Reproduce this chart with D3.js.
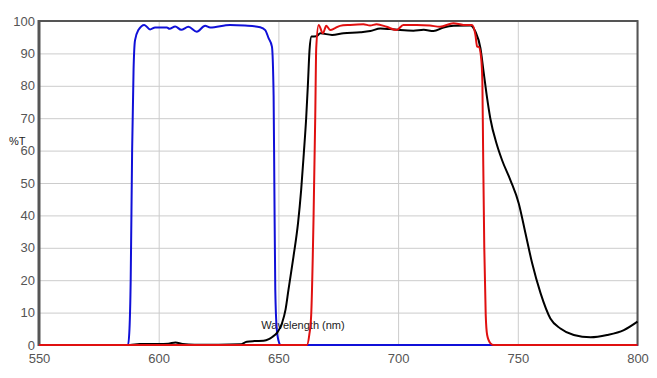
<!DOCTYPE html>
<html>
<head>
<meta charset="utf-8">
<script src="https://cdn.jsdelivr.net/npm/d3@7"></script>
<style>
  html, body { margin: 0; padding: 0; background: #fff; }
  svg { display: block; }
</style>
</head>
<body>
<svg id="chart" width="657" height="378"></svg>
<script>
// ---- Data ----
const xTicks = [550, 600, 650, 700, 750, 800];
const yTicks = [0, 10, 20, 30, 40, 50, 60, 70, 80, 90, 100];

const blueWl = [550, 587.2, 587.8, 588.3, 588.9, 589.5, 590.1, 591.5, 594.0, 596.4, 598.5, 603.4, 604.5, 606.9, 609.4, 612.4, 615.9, 619.4, 621.5, 629.8, 636, 642.4, 644.5, 645.9, 647.3, 648.0, 648.3, 648.7, 649.3, 650.0, 651, 800];
const blueT  = [0, 0, 5, 20, 60, 85, 94, 97.2, 98.8, 97.4, 98.0, 98.0, 97.6, 98.3, 97.3, 98.2, 96.7, 98.5, 98.0, 98.8, 98.6, 98.1, 97.2, 94.7, 92.1, 77, 50, 17, 5, 1.5, 0, 0];

const blackWl = [550, 588, 592, 600, 604, 607, 610, 615, 625, 634, 636.8, 640, 643.8, 646, 647.3, 649.5, 651.5, 653, 654.2, 656.3, 658.2, 659.5, 660.6, 661.6, 662.3, 663, 663.8, 665.9, 667.5, 672.4, 677.2, 684.2, 688.4, 692.6, 696.7, 700.9, 706.4, 710.7, 714.8, 719, 723.2, 730.2, 732.3, 734.4, 735.7, 737.2, 738.5, 741.3, 743.4, 746.9, 750.4, 753.2, 756, 759.5, 763.6, 767.8, 773.4, 780.4, 787.3, 794.3, 800];
const blackT  = [0, 0, 0.3, 0.3, 0.4, 0.8, 0.3, 0.1, 0.1, 0.2, 1.0, 1.2, 1.3, 1.8, 2.4, 3.8, 6.7, 11, 17, 27.3, 37.6, 47.8, 59, 70, 80, 91, 95.2, 95.3, 96.2, 95.7, 96.2, 96.5, 96.9, 97.7, 97.5, 97.2, 97, 97.3, 96.9, 98, 98.5, 98.6, 96.7, 91.6, 84.4, 76.1, 70, 61.7, 57.1, 50.9, 43.7, 34.5, 25.2, 16, 8.2, 5.1, 3.1, 2.4, 3.1, 4.6, 7.2];

const redWl = [550, 661.9, 662.9, 663.7, 664.7, 665.4, 665.8, 666.8, 668.6, 670, 671.7, 673.7, 675.7, 679.9, 685.5, 688.3, 691, 695.2, 699.4, 702.2, 707.8, 713.3, 717.5, 723.1, 727.3, 730.9, 732.3, 733, 733.7, 734.7, 735.2, 735.5, 736, 736.6, 737.2, 738.5, 739.9, 800];
const redT  = [0, 0, 3.1, 9.3, 40, 71, 91.6, 98.8, 96.2, 98.5, 97.2, 97.8, 98.5, 98.8, 99, 98.6, 99, 98.2, 97.2, 98.8, 98.8, 98.6, 98.2, 99.3, 98.8, 98.8, 95.7, 92.1, 92, 88.5, 81.3, 60.7, 29.9, 9.3, 3.1, 0.6, 0, 0];

const yLabel = "%T";
const xLabel = "Wavelength (nm)";

// ---- Layout ----
const svg = d3.select("#chart");
const mLeft = 39, mRight = 637.5, mTop = 21, mBottom = 345;

const x = d3.scaleLinear().domain([550, 800]).range([mLeft, mRight]);
const y = d3.scaleLinear().domain([0, 100]).range([mBottom, mTop]);

// grid
const gx = svg.append("g").attr("transform", `translate(0,${mBottom})`)
  .call(d3.axisBottom(x).tickValues(xTicks).tickSize(-(mBottom - mTop)).tickFormat(""));
gx.select(".domain").remove();
gx.selectAll("line").attr("stroke", "#cccccc").attr("stroke-width", 1);

const gy = svg.append("g").attr("transform", `translate(${mLeft},0)`)
  .call(d3.axisLeft(y).tickValues(yTicks).tickSize(-(mRight - mLeft)).tickFormat(""));
gy.select(".domain").remove();
gy.selectAll("line").attr("stroke", "#cccccc").attr("stroke-width", 1);

// tick labels
const xl = svg.append("g").attr("transform", `translate(0,${mBottom})`)
  .call(d3.axisBottom(x).tickValues(xTicks).tickSize(0).tickPadding(9).tickFormat(d3.format("d")));
xl.select(".domain").remove();
xl.selectAll("text").attr("font-family", "Liberation Sans, Arial, sans-serif")
  .attr("font-size", "13px").attr("fill", "#555");

const yl = svg.append("g").attr("transform", `translate(${mLeft},0)`)
  .call(d3.axisLeft(y).tickValues(yTicks).tickSize(0).tickPadding(4).tickFormat(d3.format("d")));
yl.select(".domain").remove();
yl.selectAll("text").attr("font-family", "Liberation Sans, Arial, sans-serif")
  .attr("font-size", "13px").attr("fill", "#555");

// frame
svg.append("rect").attr("x", mLeft).attr("y", mTop)
  .attr("width", mRight - mLeft).attr("height", mBottom - mTop)
  .attr("fill", "none").attr("stroke", "#555").attr("stroke-width", 2);
svg.append("line").attr("x1", mLeft).attr("x2", mLeft).attr("y1", mTop - 1).attr("y2", mBottom + 1)
  .attr("stroke", "#555").attr("stroke-width", 3);

// axis titles
svg.append("text").attr("x", 9).attr("y", 145)
  .attr("font-family", "Liberation Sans, Arial, sans-serif").attr("font-size", "11px")
  .attr("fill", "#222").text(yLabel);
svg.append("text").attr("x", 303).attr("y", 329).attr("text-anchor", "middle")
  .attr("font-family", "Liberation Sans, Arial, sans-serif").attr("font-size", "11px")
  .attr("fill", "#222").text(xLabel);

// curves
const line = d3.line().x(d => x(d[0])).y(d => y(d[1])).curve(d3.curveMonotoneX);
const series = [
  { wl: blueWl, t: blueT, color: "#1010d8" },
  { wl: blackWl, t: blackT, color: "#000000" },
  { wl: redWl, t: redT, color: "#e01010" }
];
series.forEach(s => {
  svg.append("path")
    .datum(s.wl.map((w, i) => [w, s.t[i]]))
    .attr("d", line)
    .attr("fill", "none")
    .attr("stroke", s.color)
    .attr("stroke-width", 2)
    .attr("stroke-linejoin", "round");
});
</script>
</body>
</html>
